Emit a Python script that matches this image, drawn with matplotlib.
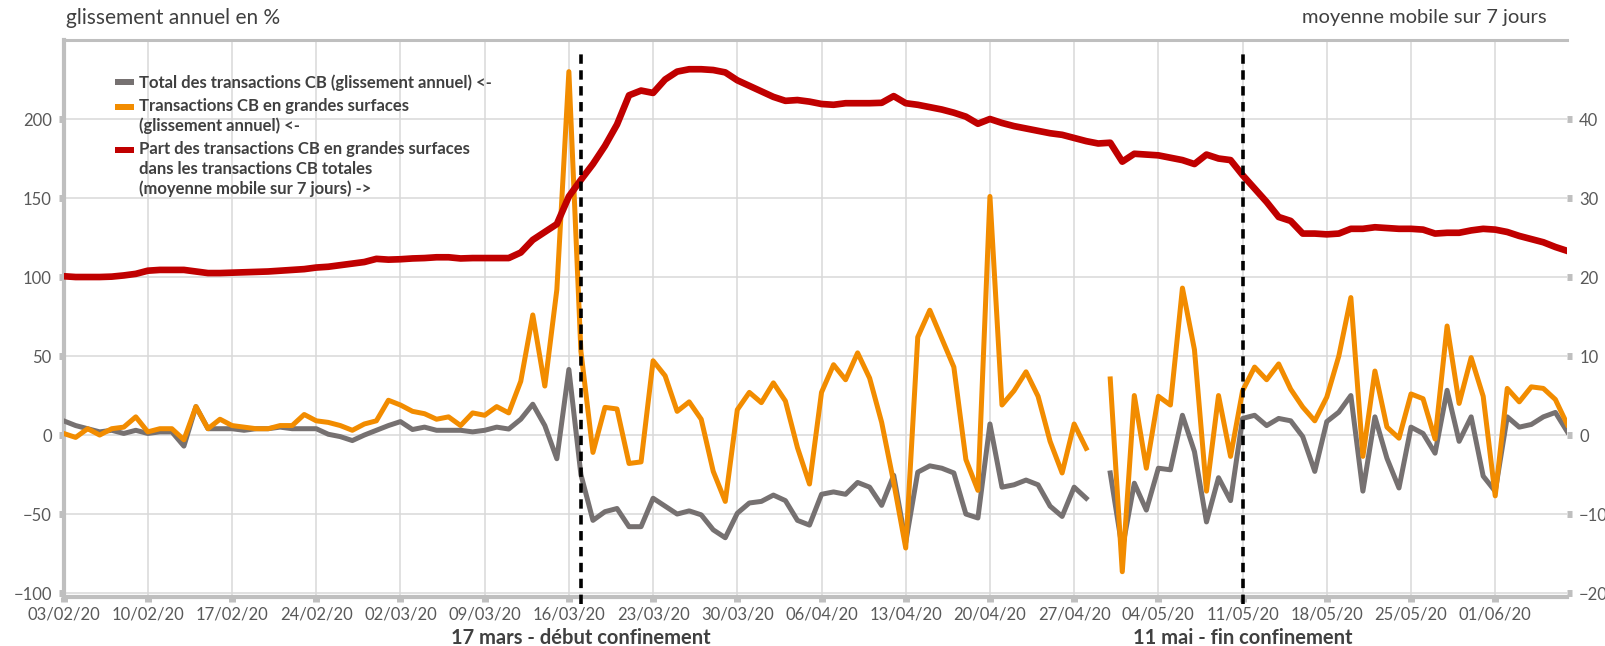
import numpy as np
import pandas as pd
import matplotlib
matplotlib.use('Agg')
import matplotlib.pyplot as plt
import matplotlib.dates as mdates
from matplotlib.legend_handler import HandlerBase
from matplotlib.patches import Rectangle

plt.rcParams['font.family'] = ['Lato', 'DejaVu Sans']

# Daily dates, 03/02/20 -> 07/06/20
dates = pd.date_range('2020-02-03', '2020-06-07', freq='D')

# Total des transactions CB (glissement annuel, %), left axis
total_cb = [
    9, 6, 4, 2, 3, 1, 3, 1, 2, 2,
    -7, 18, 4, 4, 4, 3, 4, 4, 5, 4,
    4, 4, 0.5, -1, -3.5, 0, 3, 6, 8.5, 3.5,
    5, 3, 3, 3, 2, 3, 5, 3.8, 10, 19.5,
    6, -15, 41.5, -25, -54, -48.5, -46.5, -58, -58, -40,
    -45, -50, -48, -50.5, -60, -65, -49.5, -43, -42, -38,
    -41.5, -54, -57, -37.5, -36, -37.5, -30, -33, -44.5, -25.5,
    -68, -23.5, -19.5, -21, -24, -50, -52.5, 7, -33, -31.5,
    -28.5, -31.5, -45, -51.5, -33, -40, np.nan, -24, -72, -30.5,
    -47.5, -21, -22, 12.5, -10.5, -55, -27, -41.5, 10.5, 12.5,
    6, 10.5, 9, -1, -23, 8.5, 14.5, 25, -35.5, 11.5,
    -14.7, -33.5, 5, 1, -11.5, 28.3, -4, 11.5, -26, -35.6,
    11.5, 5, 6.7, 11.5, 14.3, 2,
]

# Transactions CB en grandes surfaces (glissement annuel, %), left axis
grandes_surfaces = [
    1, -1.5, 4, 0, 4, 5, 11.5, 2, 4, 4,
    -3, 18, 4, 10, 6, 5, 4, 4, 6, 6,
    13, 9, 8, 6, 3, 7, 9, 22, 19, 15,
    13.5, 10, 11.5, 6, 14, 12.5, 18, 14, 34, 76,
    31, 92, 230, 53, -11, 17.5, 16.5, -18, -17, 47,
    37.5, 15, 21, 10, -23, -42, 16, 27, 20.5, 33,
    21.5, -8, -31, 27, 44.5, 35, 52, 36, 8, -30,
    -71.5, 62, 79, 61, 43, -15.5, -35, 151, 19, 28,
    40, 24.5, -4, -24, 7, -8.4, np.nan, 35.5, -86.5, 25,
    -21, 24.5, 19, 93, 54, -35.5, 25, -13.5, 28, 43,
    35, 45, 29, 17.7, 9, 24, 50, 87, -13.5, 40.5,
    5, -2, 26, 23, -2.5, 69, 20, 49, 24.5, -38.5,
    29.5, 21, 30.5, 29.5, 22.5, 6.5,
]

# Part des transactions CB en grandes surfaces (moyenne mobile 7 jours, %), right axis
part_gs = [
    20.1, 20.0, 20.0, 20.0, 20.05, 20.2, 20.4, 20.8, 20.9, 20.9,
    20.9, 20.7, 20.5, 20.5, 20.55, 20.6, 20.65, 20.7, 20.8, 20.9,
    21.0, 21.2, 21.3, 21.5, 21.7, 21.9, 22.3, 22.2, 22.25, 22.35,
    22.4, 22.5, 22.5, 22.35, 22.4, 22.4, 22.4, 22.4, 23.1, 24.7,
    25.7, 26.7, 30.2, 32.3, 34.3, 36.6, 39.3, 43.0, 43.6, 43.3,
    45.0, 46.0, 46.3, 46.3, 46.2, 45.9, 44.9, 44.2, 43.5, 42.8,
    42.3, 42.4, 42.2, 41.9, 41.8, 42.0, 42.0, 42.0, 42.05, 42.9,
    42.0, 41.8, 41.5, 41.2, 40.8, 40.3, 39.4, 40.0, 39.5, 39.1,
    38.8, 38.5, 38.2, 38.0, 37.6, 37.2, 36.9, 37.0, 34.6, 35.6,
    35.5, 35.4, 35.1, 34.8, 34.3, 35.5, 35.0, 34.8, 32.9, 31.2,
    29.5, 27.6, 27.1, 25.5, 25.5, 25.4, 25.5, 26.1, 26.1, 26.3,
    26.2, 26.1, 26.1, 26.0, 25.5, 25.6, 25.6, 25.9, 26.1, 26.0,
    25.7, 25.2, 24.8, 24.4, 23.8, 23.3,
]

labels = [
    'Total des transactions CB (glissement annuel) <-',
    'Transactions CB en grandes surfaces\n(glissement annuel) <-',
    'Part des transactions CB en grandes surfaces\ndans les transactions CB totales\n(moyenne mobile sur 7 jours) ->',
]

events = [pd.Timestamp('2020-03-17'), pd.Timestamp('2020-05-11')]
event_labels = ['17 mars - début confinement', '11 mai - fin confinement']

GRAY = '#767171'
ORANGE = '#F28C00'
RED = '#C00000'
AXIS_GRAY = '#BFBFBF'
GRID = '#D9D9D9'
TXT = '#595959'
DARK = '#404040'

LEG_SIZE = 12
LEG_LINESPACING = 1.28


class FirstLineHandler(HandlerBase):
    # legend patch aligned on the first line of a multi-line label
    def __init__(self, nlines):
        super().__init__()
        self.nlines = nlines

    def create_artists(self, legend, orig_handle, xdescent, ydescent,
                       width, height, fontsize, trans):
        pitch = fontsize * 0.95 * LEG_LINESPACING
        shift = (self.nlines - 1) / 2 * pitch
        bar_h = 0.38 * fontsize
        rect = Rectangle((-xdescent, -ydescent + height / 2 - bar_h / 2 + shift),
                         width, bar_h, facecolor=orig_handle.get_color(),
                         edgecolor='none', transform=trans)
        return [rect]


fig = plt.figure(figsize=(16.06, 6.46), dpi=100)
ax = fig.add_axes([63.6 / 1606, 1 - 597 / 646, (1567.4 - 63.6) / 1606, (597 - 40) / 646])

line_total, = ax.plot(dates, total_cb, color=GRAY, linewidth=3.6,
                      solid_joinstyle='round', zorder=3)
line_gs, = ax.plot(dates, grandes_surfaces, color=ORANGE, linewidth=3.6,
                   solid_joinstyle='round', zorder=4)

ax.set_xlim(dates[0], dates[-1])
ax.set_ylim(-102.5, 250)
ax.set_yticks([-100, -50, 0, 50, 100, 150, 200])
ax.xaxis.set_major_locator(mdates.WeekdayLocator(byweekday=mdates.MO))
ax.xaxis.set_major_formatter(mdates.DateFormatter('%d/%m/%y'))
ax.grid(True, color=GRID, linewidth=1.1, zorder=0)
ax.set_axisbelow(True)

ax.spines['right'].set_visible(False)
ax.spines['left'].set_color(AXIS_GRAY)
ax.spines['left'].set_linewidth(3)
ax.spines['bottom'].set_color(AXIS_GRAY)
ax.spines['bottom'].set_linewidth(3)
ax.spines['top'].set_color(AXIS_GRAY)
ax.spines['top'].set_linewidth(2.2)

ax.tick_params(axis='y', direction='out', length=3.5, width=5, color=AXIS_GRAY,
               labelsize=12, labelcolor=TXT, pad=5)
ax.tick_params(axis='x', direction='out', length=3.5, width=5, color=AXIS_GRAY,
               labelsize=12, labelcolor=TXT, pad=3)

ax2 = ax.twinx()
line_part, = ax2.plot(dates, part_gs, color=RED, linewidth=4.8,
                      solid_joinstyle='round', zorder=5)
ax2.set_ylim(-102.5 / 5, 50)
ax2.set_yticks([-20, -10, 0, 10, 20, 30, 40])
for side in ['left', 'right', 'top', 'bottom']:
    ax2.spines[side].set_visible(False)
ax2.tick_params(axis='y', direction='out', length=3.5, width=5, color=AXIS_GRAY,
                labelsize=12, labelcolor=TXT, pad=5)

# dashed event lines and their captions
for ev, txt in zip(events, event_labels):
    ax2.axvline(ev, ymin=-0.012, ymax=0.975, color='black', linewidth=2.6,
                linestyle=(0, (2.6, 1.8)), clip_on=False, zorder=6)
    ax2.text(ev, -0.074, txt, transform=ax2.get_xaxis_transform(),
             ha='center', va='center', fontsize=14.5, fontweight='bold', color=DARK)

leg = ax2.legend([line_total, line_gs, line_part], labels,
                 handler_map={line_total: FirstLineHandler(1),
                              line_gs: FirstLineHandler(2),
                              line_part: FirstLineHandler(3)},
                 loc='upper left', bbox_to_anchor=(0.034, 0.938), frameon=False,
                 prop={'size': LEG_SIZE, 'weight': 'bold'},
                 handlelength=1.15, handletextpad=0.3, labelspacing=0.42,
                 borderpad=0, borderaxespad=0)
for t in leg.get_texts():
    t.set_color(DARK)
    t.set_linespacing(LEG_LINESPACING)

fig.text(66 / 1606, 1 - 18 / 646, 'glissement annuel en %', ha='left', va='center',
         fontsize=15, color=DARK)
fig.text(1547 / 1606, 1 - 18 / 646, 'moyenne mobile sur 7 jours', ha='right',
         va='center', fontsize=14.5, color=DARK)

fig.savefig('out.png', dpi=100, facecolor='white')
